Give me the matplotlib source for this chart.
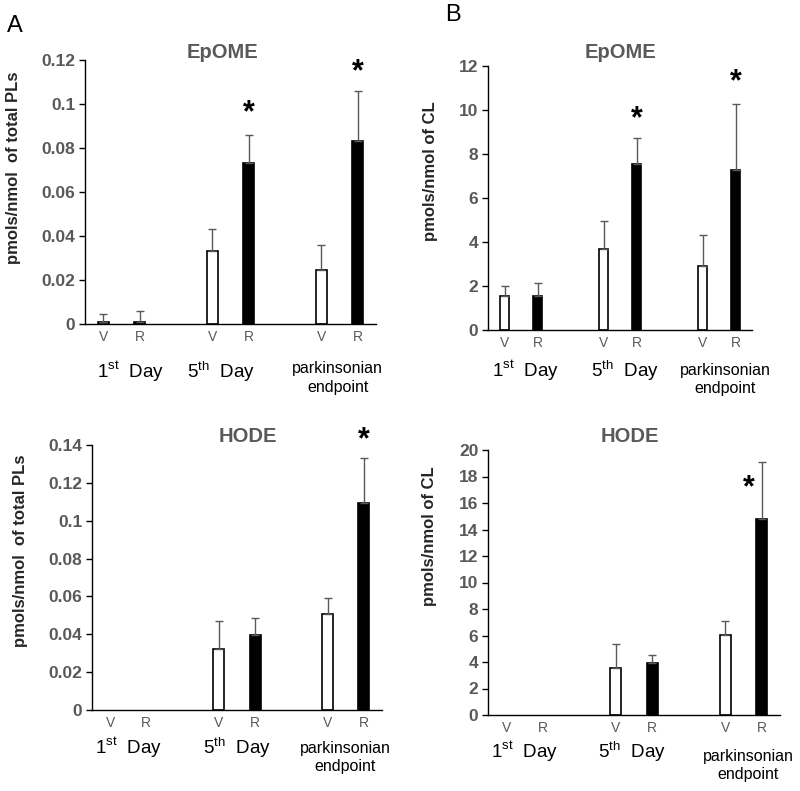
import matplotlib
matplotlib.use("Agg")
import matplotlib.pyplot as plt
import numpy as np
from matplotlib.ticker import FuncFormatter

plt.rcParams['font.family'] = ['Liberation Sans', 'DejaVu Sans']
plt.rcParams['mathtext.fontset'] = 'custom'
plt.rcParams['mathtext.rm'] = 'Liberation Sans'

# data (bar height and upper error)
bar_labels = ["V", "R", "V", "R", "V", "R"]
x_pos = [0, 1, 3, 4, 6, 7]
is_rot = [False, True, False, True, False, True]

epome_pl = [0.001, 0.001, 0.033, 0.073, 0.0245, 0.083]
epome_pl_err = [0.0035, 0.005, 0.010, 0.013, 0.0113, 0.023]
epome_pl_star = [None, None, None, 0.096, None, 0.1145]

epome_cl = [1.55, 1.55, 3.67, 7.53, 2.92, 7.26]
epome_cl_err = [0.45, 0.6, 1.3, 1.18, 1.41, 3.0]
epome_cl_star = [None, None, None, 9.6, None, 11.25]

hode_pl = [np.nan, np.nan, 0.032, 0.0396, 0.0507, 0.1092]
hode_pl_err = [np.nan, np.nan, 0.0148, 0.0092, 0.0083, 0.0241]
hode_pl_star = [None, None, None, None, None, 0.1426]

hode_cl = [np.nan, np.nan, 3.52, 3.9, 6.04, 14.79]
hode_cl_err = [np.nan, np.nan, 1.86, 0.65, 1.03, 4.28]
hode_cl_star = [None, None, None, None, None, 17.1]

GRAY = "#595959"

fig = plt.figure(figsize=(8, 7.91), dpi=100)


def draw_panel(rect, vals, errs, stars, ylim, step, ylabel, ylab_xy,
               title, title_xy, lab_x, lab_dy, star_dx=0.0):
    ax = fig.add_axes(rect)
    vals = np.array(vals, dtype=float)
    errs = np.array(errs, dtype=float)
    for x, v, e, rot in zip(x_pos, vals, errs, is_rot):
        if not np.isfinite(v):
            continue
        ax.bar(x, v, width=0.3, color="black" if rot else "white",
               edgecolor="black", linewidth=1.2, zorder=2)
        ax.errorbar(x, v, yerr=[[0], [e]], fmt="none", ecolor=GRAY,
                    elinewidth=1.0, capsize=3, capthick=1.0, zorder=3)
    for x, s in zip(x_pos, stars):
        if s is not None:
            ax.text(x + star_dx, s, "*", ha="center", va="center",
                    fontsize=22, fontweight="bold", clip_on=False)
    ax.set_xlim(-0.5, 7.5)
    ax.set_ylim(*ylim)
    ax.set_yticks(np.arange(ylim[0], ylim[1] + step / 2, step))
    ax.yaxis.set_major_formatter(FuncFormatter(lambda v, p: "{:g}".format(round(v, 4))))
    for s in ["top", "right"]:
        ax.spines[s].set_visible(False)
    for s in ["left", "bottom"]:
        ax.spines[s].set_linewidth(1.0)
    ax.tick_params(axis="y", direction="out", length=4, width=1.0,
                   labelsize=12.5, labelcolor=GRAY, pad=3)
    for t in ax.get_yticklabels():
        t.set_fontweight("bold")
    ax.set_xticks(x_pos)
    ax.set_xticklabels(bar_labels, fontsize=10, color=GRAY)
    ax.tick_params(axis="x", length=0, pad=4)
    ax.set_ylabel(ylabel, fontsize=12, fontweight="bold", color="#262626")
    ax.yaxis.set_label_coords(*ylab_xy)
    fig.text(title_xy[0] / 800, 1 - title_xy[1] / 791, title, ha="center",
             va="center", fontsize=14.5, fontweight="bold", color=GRAY)
    # group labels under the axis
    kw = dict(xycoords=("data", "axes fraction"), textcoords="offset pixels",
              ha="center", va="center", fontsize=13.5, annotation_clip=False)
    ax.annotate("1$^{\\rm st}$  Day", xy=(lab_x[0], 0), xytext=(0, -lab_dy[0]), **kw)
    ax.annotate("5$^{\\rm th}$  Day", xy=(lab_x[1], 0), xytext=(0, -lab_dy[0]), **kw)
    kw["fontsize"] = 11.5
    ax.annotate("parkinsonian", xy=(lab_x[2], 0), xytext=(0, -lab_dy[1]), **kw)
    ax.annotate("endpoint", xy=(lab_x[2], 0), xytext=(0, -lab_dy[2]), **kw)
    return ax


draw_panel([85 / 800, 1 - 324 / 791, 291 / 800, 264 / 791],
           epome_pl, epome_pl_err, epome_pl_star, (0, 0.12), 0.02,
           "pmols/nmol  of total PLs", (-0.22, 0.59),
           "EpOME", (223, 52), (0.75, 3.25, 6.45), (48, 44, 63))
draw_panel([488 / 800, 1 - 330 / 791, 264 / 800, 264 / 791],
           epome_cl, epome_cl_err, epome_cl_star, (0, 12), 2,
           "pmols/nmol of CL", (-0.19, 0.60),
           "EpOME", (620, 52), (0.65, 3.65, 6.68), (41, 41, 59))
draw_panel([92 / 800, 1 - 710 / 791, 290 / 800, 265 / 791],
           hode_pl, hode_pl_err, hode_pl_star, (0, 0.14), 0.02,
           "pmols/nmol  of total PLs", (-0.22, 0.60),
           "HODE", (248, 437), (0.52, 3.5, 6.48), (38, 38, 56))
draw_panel([488 / 800, 1 - 715 / 791, 292 / 800, 265 / 791],
           hode_cl, hode_cl_err, hode_cl_star, (0, 20), 2,
           "pmols/nmol of CL", (-0.175, 0.675),
           "HODE", (630, 437), (0.51, 3.45, 6.62), (37, 42, 60), star_dx=-0.35)

fig.text(15 / 800, 1 - 26 / 791, "A", ha="center", va="center", fontsize=17)
fig.text(453 / 800, 1 - 15 / 791, "B", ha="center", va="center", fontsize=17)

fig.savefig("out.png", dpi=100)
